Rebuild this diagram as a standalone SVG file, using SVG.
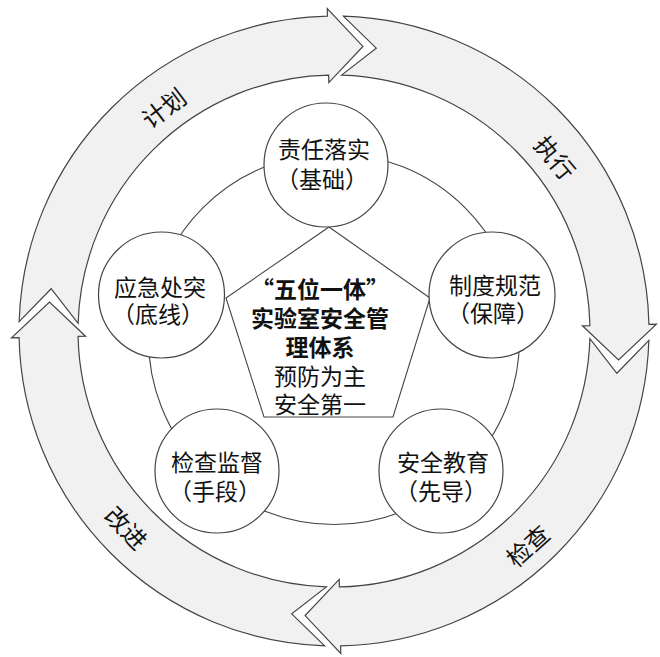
<svg xmlns="http://www.w3.org/2000/svg" width="660" height="657" viewBox="0 0 660 657">
<style>
.arrow{fill:#f1f1f1;stroke:#444;stroke-width:1.2;stroke-linejoin:miter}
.line{fill:none;stroke:#444;stroke-width:1.1}
.node{fill:#fff;stroke:#444;stroke-width:1.2}
text{font-family:"Noto Sans CJK SC","Noto Sans CJK JP",sans-serif;fill:#111;text-anchor:middle;dominant-baseline:central}
.ring{font-size:24px}
.nt{font-size:23px}
.ct{font-size:23px;font-weight:bold}
.cn{font-size:23px}
</style>
<defs>
<path id="arr" d="M19.14,321.65 L51.14,288.73 L78.11,323.40 A256,256 0 0,1 328.64,75.06 L328.80,82.55 L362.90,46.46 L327.25,8.57 L327.40,16.07 A315,315 0 0,0 19.14,321.65 Z"/>
</defs>
<g id="ring">
<use href="#arr" class="arrow"/>
<use href="#arr" class="arrow" transform="rotate(90 334 331)"/>
<use href="#arr" class="arrow" transform="rotate(180 334 331)"/>
<use href="#arr" class="arrow" transform="rotate(270 334 331)"/>
<text class="ring" transform="translate(163 107) rotate(-37)">计划</text>
<text class="ring" transform="translate(556 157) rotate(50)">执行</text>
<text class="ring" transform="translate(527 545) rotate(-42)">检查</text>
<text class="ring" transform="translate(127 527) rotate(46)">改进</text>
</g>
<g id="connectors">
<circle class="line" cx="334" cy="339" r="185.5"/>
<polygon class="line" points="329,227 430,298 393,417 264,417 226,298"/>
</g>
<g id="center">
<text class="ct" x="320" y="288">“五位一体”</text>
<text class="ct" x="320" y="317">实验室安全管</text>
<text class="ct" x="320" y="346">理体系</text>
<text class="cn" x="320" y="375">预防为主</text>
<text class="cn" x="320" y="403">安全第一</text>
</g>
<g id="n1">
<circle class="node" cx="326" cy="165" r="62"/>
<text class="nt" x="324" y="148">责任落实</text>
<text class="nt" x="322" y="178">（基础）</text>
</g>
<g id="n2">
<circle class="node" cx="492" cy="295" r="63"/>
<text class="nt" x="495" y="284">制度规范</text>
<text class="nt" x="493" y="312">（保障）</text>
</g>
<g id="n3">
<circle class="node" cx="441" cy="471" r="62"/>
<text class="nt" x="443" y="461">安全教育</text>
<text class="nt" x="441" y="490">（先导）</text>
</g>
<g id="n4">
<circle class="node" cx="217" cy="471" r="62"/>
<text class="nt" x="217" y="461">检查监督</text>
<text class="nt" x="215" y="490">（手段）</text>
</g>
<g id="n5">
<circle class="node" cx="161.5" cy="295" r="63"/>
<text class="nt" x="160" y="286">应急处突</text>
<text class="nt" x="158" y="313">（底线）</text>
</g>
</svg>
